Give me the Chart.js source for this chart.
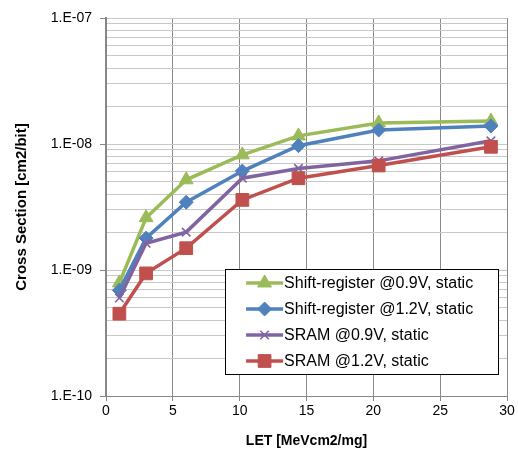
<!DOCTYPE html>
<html>
<head>
<meta charset="utf-8">
<script src="https://cdn.jsdelivr.net/npm/chart.js@4/dist/chart.umd.min.js"></script>
<style>
body { margin: 0; background: #fff; }
</style>
</head>
<body>
<canvas id="mycanvas" width="518" height="454"></canvas>
<script>
// LET values (x) shared by all series
var let_values = [1.0, 3.0, 6.0, 10.2, 14.4, 20.4, 28.8];

var shift09 = [7.9e-10, 2.6e-9, 5.2e-9, 8.2e-9, 1.16e-8, 1.47e-8, 1.52e-8];
var shift12 = [6.9e-10, 1.79e-9, 3.45e-9, 6.1e-9, 9.7e-9, 1.29e-8, 1.39e-8];
var sram09 = [6.0e-10, 1.63e-9, 2.0e-9, 5.35e-9, 6.4e-9, 7.35e-9, 1.06e-8];
var sram12 = [4.5e-10, 9.4e-10, 1.49e-9, 3.6e-9, 5.35e-9, 6.75e-9, 9.5e-9];

var seriesNames = ["Shift-register @0.9V, static", "Shift-register @1.2V, static", "SRAM @0.9V, static", "SRAM @1.2V, static"];

var decades = [1e-10, 1e-9, 1e-8, 1e-7];
var yTickLabels = ["1.E-10", "1.E-09", "1.E-08", "1.E-07"];
var xTicks = [0, 5, 10, 15, 20, 25, 30];

function pts(ys) {
	var out = [];
	for (var i in ys) out.push({x: let_values[i], y: ys[i]});
	return out;
}

function decadeIndex(v) {
	var l = Math.log10(v);
	if (Math.abs(l - Math.round(l)) < 1e-6) {
		for (var i in decades) {
			if (Math.abs(Math.log10(decades[i]) - l) < 1e-6) return i;
		}
	}
	return -1;
}

function mkSet(label, data, color, style, radius, order) {
	return {
		label: label,
		data: pts(data),
		borderColor: color,
		backgroundColor: color,
		pointBackgroundColor: color,
		pointBorderColor: color,
		pointStyle: style,
		pointRadius: radius,
		pointHoverRadius: radius,
		pointBorderWidth: style == 'crossRot' ? 1.6 : 1,
		borderWidth: 3.5,
		tension: 0,
		order: order
	};
}

var insideLegend = {
	id: 'insideLegend',
	afterDatasetsDraw: function(chart) {
		var ctx = chart.ctx;
		var a = chart.chartArea;
		var w = a.right - a.left, h = a.bottom - a.top;
		var bx = a.left + w * 0.297, by = a.top + h * 0.664;
		var bw = a.right - 9 - bx, bh = a.top + h * 0.942 - by;
		ctx.save();
		ctx.fillStyle = '#fff';
		ctx.fillRect(bx, by, bw, bh);
		ctx.strokeStyle = '#000';
		ctx.lineWidth = 1;
		ctx.strokeRect(Math.round(bx) + 0.5, Math.round(by) + 0.5, Math.round(bw), Math.round(bh));
		ctx.font = '16px "Liberation Sans"';
		ctx.textBaseline = 'middle';
		chart.data.datasets.forEach(function(ds, i) {
			var y = by + 14 + i * 26;
			var x0 = bx + 21, x1 = bx + 58;
			ctx.strokeStyle = ds.borderColor;
			ctx.lineWidth = ds.borderWidth;
			ctx.beginPath();
			ctx.moveTo(x0, y);
			ctx.lineTo(x1, y);
			ctx.stroke();
			ctx.fillStyle = ds.backgroundColor;
			ctx.lineWidth = ds.pointBorderWidth;
			Chart.helpers.drawPoint(ctx, {pointStyle: ds.pointStyle, radius: ds.pointRadius, rotation: 0, borderWidth: ds.pointBorderWidth}, (x0 + x1) / 2, y);
			ctx.fillStyle = '#000';
			ctx.fillText(ds.label, x1 + 1, y + 1);
		});
		ctx.restore();
	}
};

var ctx = document.getElementById('mycanvas');

var lineGraph = new Chart(ctx, {
	type: 'line',
	data: {
		datasets: [
			mkSet(seriesNames[0], shift09, '#9BBB59', 'triangle', 8, 4),
			mkSet(seriesNames[1], shift12, '#4F81BD', 'rectRot', 7, 3),
			mkSet(seriesNames[2], sram09, '#8064A2', 'crossRot', 6, 2),
			mkSet(seriesNames[3], sram12, '#C0504D', 'rect', 9, 1)
		]
	},
	options: {
		responsive: false,
		animation: false,
		layout: {padding: {top: 18, right: 11, left: 0, bottom: 0}},
		plugins: {
			legend: {display: false},
			tooltip: {enabled: false}
		},
		scales: {
			x: {
				type: 'linear',
				min: 0,
				max: 30,
				afterBuildTicks: function(scale) {
					scale.ticks = xTicks.map(function(v) { return {value: v}; });
				},
				afterFit: function(scale) { scale.height = 58; },
				border: {color: '#868686', width: 1},
				grid: {color: '#8a8a8a', tickColor: '#868686', tickLength: 5, lineWidth: 1},
				ticks: {color: '#000', font: {size: 14, family: 'Liberation Sans'}, padding: 2, maxRotation: 0},
				title: {display: true, text: 'LET [MeVcm2/mg]', color: '#000', font: {size: 14, weight: 'bold', family: 'Liberation Sans'}, padding: {top: 8}}
			},
			y: {
				type: 'logarithmic',
				min: 1e-10,
				max: 1e-7,
				afterBuildTicks: function(scale) {
					var t = [];
					for (var i = 0; i < decades.length; i++) {
						var last = i == decades.length - 1 ? 1 : 9;
						for (var m = 1; m <= last; m++) t.push({value: m * decades[i]});
					}
					scale.ticks = t;
				},
				afterFit: function(scale) { scale.width = 106; },
				border: {color: '#868686', width: 2},
				grid: {
					color: '#c8c8c8',
					lineWidth: 1,
					tickLength: 6,
					tickColor: function(c) {
						return c.tick && decadeIndex(c.tick.value) >= 0 ? '#868686' : 'rgba(0,0,0,0)';
					}
				},
				ticks: {
					autoSkip: false,
					color: '#000',
					padding: 8,
					font: {size: 14, family: 'Liberation Sans'},
					callback: function(value) {
						var k = decadeIndex(value);
						return k >= 0 ? yTickLabels[k] : '';
					}
				},
				title: {display: true, text: 'Cross Section [cm2/bit]', color: '#000', font: {size: 15, weight: 'bold', family: 'Liberation Sans'}, padding: {top: 13}}
			}
		}
	},
	plugins: [insideLegend]
});
</script>
</body>
</html>
